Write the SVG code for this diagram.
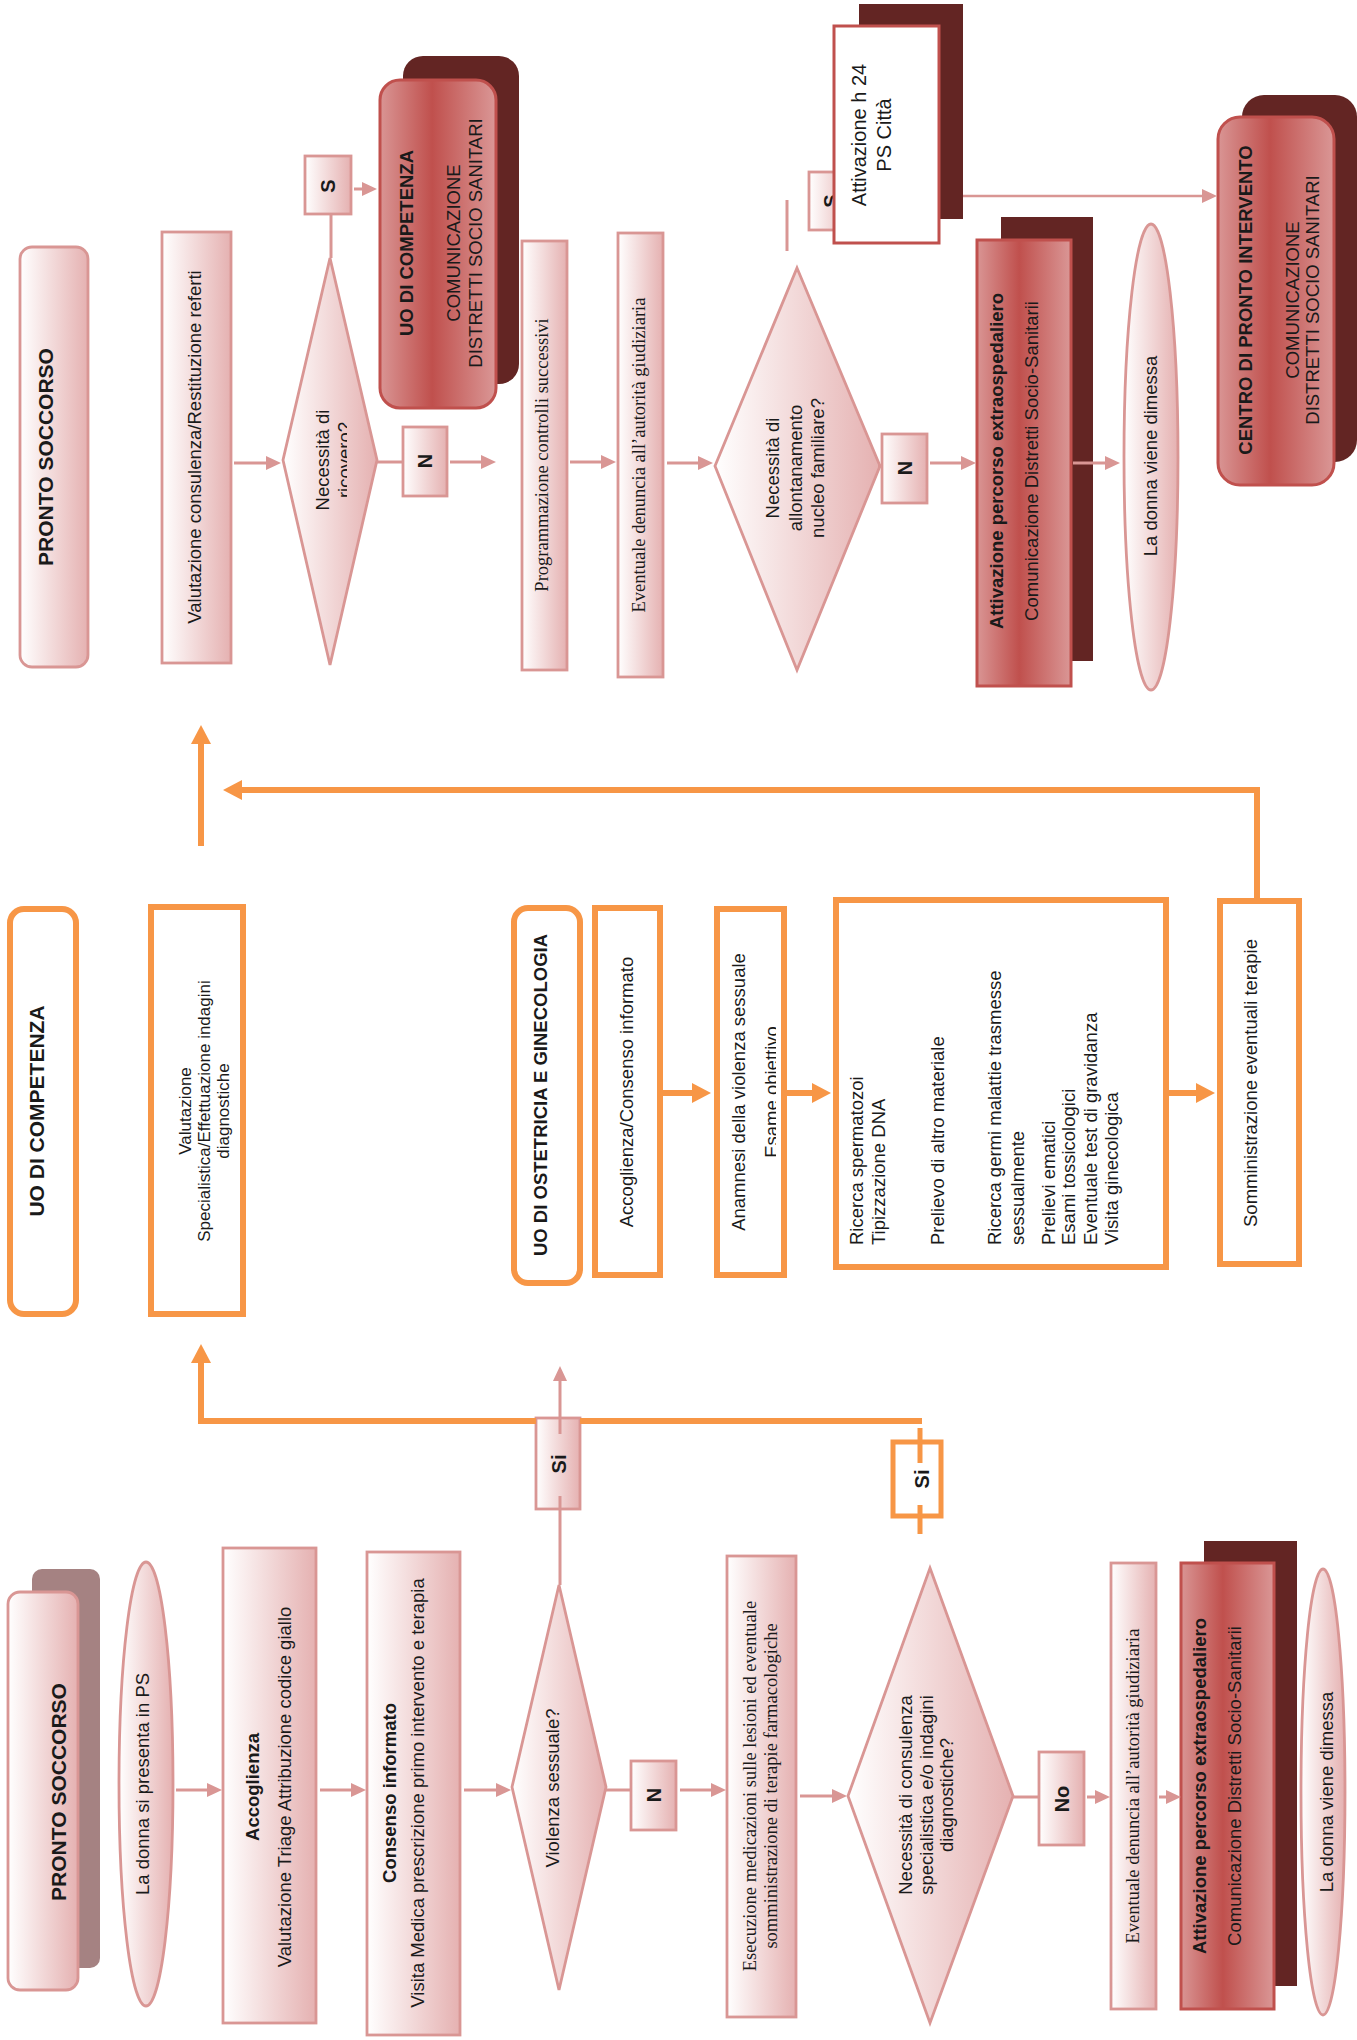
<svg xmlns="http://www.w3.org/2000/svg" width="1357" height="2040" viewBox="0 0 1357 2040">
<defs>
<linearGradient id="gP" x1="0" y1="0" x2="1" y2="0"><stop offset="0" stop-color="#ffffff"/><stop offset="1" stop-color="#e5b1b1"/></linearGradient>
<linearGradient id="gR" x1="0" y1="0" x2="1" y2="0"><stop offset="0" stop-color="#d99594"/><stop offset="0.45" stop-color="#c0504d"/><stop offset="1" stop-color="#da9796"/></linearGradient>
<marker id="ap" markerUnits="userSpaceOnUse" markerWidth="15" markerHeight="14" refX="0" refY="7" orient="auto" overflow="visible"><path d="M0,0 L15,7 L0,14 z" fill="#d99694"/></marker>
<marker id="ao" markerUnits="userSpaceOnUse" markerWidth="19" markerHeight="20" refX="0" refY="10" orient="auto" overflow="visible"><path d="M0,0 L19,10 L0,20 z" fill="#f79646"/></marker>
<clipPath id="cpA"><rect x="140" y="900" width="93" height="420"/></clipPath>
<clipPath id="cpB"><rect x="700" y="900" width="76" height="380"/></clipPath>
<clipPath id="cpC"><rect x="280" y="250" width="67" height="420"/></clipPath>
<style>
.pk{fill:url(#gP);stroke:#d99694;stroke-width:2.8}
.rd{fill:url(#gR);stroke:#c0504d;stroke-width:3}
.sh{fill:#632523}
.or{fill:#ffffff;stroke:#f79646;stroke-width:6}
.t{font-family:"Liberation Sans",Arial,sans-serif;font-size:18.5px;fill:#1a1a1a}
.s{font-family:"Liberation Serif","Times New Roman",serif;font-size:18.5px;fill:#1a1a1a}
.b{font-weight:bold}
.h{font-size:21px}
.m{font-size:20px}
.ln{stroke:#d99694;stroke-width:3;fill:none}
.ol{stroke:#f79646;stroke-width:6;fill:none}
</style>
</defs>
<rect width="1357" height="2040" fill="#ffffff"/>

<!-- bottom row -->
<g id="ps-bottom">
<rect x="32" y="1569" width="68" height="399" rx="10" fill="#a58282"/>
<rect class="pk" x="8" y="1592" width="70" height="398" rx="12"/>
<text class="t b h" text-anchor="middle" transform="translate(0,1792) rotate(-90)"><tspan x="0" y="66">PRONTO SOCCORSO</tspan></text>
</g>
<g id="donna-ps">
<ellipse class="pk" cx="146" cy="1784" rx="27" ry="222"/>
<text class="t" text-anchor="middle" transform="translate(0,1784) rotate(-90)"><tspan x="0" y="149">La donna si presenta in PS</tspan></text>
</g>
<g id="accoglienza">
<rect class="pk" x="223" y="1548" width="93" height="475"/>
<text class="t" text-anchor="middle" transform="translate(0,1787) rotate(-90)"><tspan class="b" x="0" y="259">Accoglienza</tspan><tspan x="0" y="291">Valutazione Triage Attribuzione codice giallo</tspan></text>
</g>
<g id="consenso">
<rect class="pk" x="367" y="1552" width="93" height="483"/>
<text class="t" text-anchor="middle" transform="translate(0,1793) rotate(-90)"><tspan class="b" x="0" y="396">Consenso informato</tspan><tspan x="0" y="424">Visita Medica prescrizione primo intervento e terapia</tspan></text>
</g>
<g id="violenza">
<polygon class="pk" points="559,1585 606,1787 559,1990 512,1787"/>
<text class="t" text-anchor="middle" transform="translate(0,1788) rotate(-90)"><tspan x="0" y="559">Violenza sessuale?</tspan></text>
</g>
<g id="n-violenza">
<rect class="pk" x="631" y="1761" width="45" height="69"/>
<text class="t b m" text-anchor="middle" transform="translate(0,1795) rotate(-90)"><tspan x="0" y="661">N</tspan></text>
</g>
<g id="esecuzione">
<rect class="pk" x="727" y="1556" width="69" height="461"/>
<text class="s" text-anchor="middle" transform="translate(0,1786) rotate(-90)"><tspan x="0" y="756">Esecuzione medicazioni sulle lesioni ed eventuale</tspan><tspan x="0" y="777">somministrazione di terapie farmacologiche</tspan></text>
</g>
<g id="consulenza">
<polygon class="pk" points="930,1568 1013,1796 930,2023 848,1796"/>
<text class="t" text-anchor="middle" transform="translate(0,1795) rotate(-90)"><tspan x="0" y="912">Necessità di consulenza</tspan><tspan x="0" y="933">specialistica e/o indagini</tspan><tspan x="0" y="953">diagnostiche?</tspan></text>
</g>
<g id="no-box">
<rect class="pk" x="1039" y="1752" width="45" height="93"/>
<text class="t b m" text-anchor="middle" transform="translate(0,1799) rotate(-90)"><tspan x="0" y="1069">No</tspan></text>
</g>
<g id="denuncia-bottom">
<rect class="pk" x="1111" y="1563" width="45" height="446"/>
<text class="s" text-anchor="middle" transform="translate(0,1786) rotate(-90)"><tspan x="0" y="1139">Eventuale denuncia all’autorità giudiziaria</tspan></text>
</g>
<g id="attivazione-bottom">
<rect class="sh" x="1204" y="1541" width="93" height="445"/>
<rect class="rd" x="1181" y="1563" width="93" height="446"/>
<text class="t" text-anchor="middle" transform="translate(0,1786) rotate(-90)"><tspan class="b" x="0" y="1206">Attivazione percorso extraospedaliero</tspan><tspan x="0" y="1241">Comunicazione Distretti Socio-Sanitarii</tspan></text>
</g>
<g id="dimessa-bottom">
<ellipse class="pk" cx="1323" cy="1792" rx="22" ry="223"/>
<text class="t" text-anchor="middle" transform="translate(0,1792) rotate(-90)"><tspan x="0" y="1333">La donna viene dimessa</tspan></text>
</g>
<g id="si-pink">
<rect class="pk" x="536" y="1418" width="44" height="91"/>
<text class="t b m" text-anchor="middle" transform="translate(0,1464) rotate(-90)"><tspan x="0" y="566">Si</tspan></text>
</g>
<g id="si-orange">
<rect x="893" y="1442" width="48" height="74" fill="#ffffff" stroke="#f79646" stroke-width="5"/>
<text class="t b m" text-anchor="middle" transform="translate(0,1479) rotate(-90)"><tspan x="0" y="929">Si</tspan></text>
</g>

<!-- orange section -->
<g id="uo-competenza">
<rect class="or" x="10" y="909" width="66" height="405" rx="14"/>
<text class="t b h" text-anchor="middle" transform="translate(0,1111) rotate(-90)"><tspan x="0" y="44">UO DI COMPETENZA</tspan></text>
</g>
<g id="valutazione-specialistica">
<rect class="or" x="151" y="907" width="92" height="407"/>
<g clip-path="url(#cpA)">
<text class="t" style="font-size:17px" text-anchor="middle" transform="translate(0,1111) rotate(-90)"><tspan x="0" y="191">Valutazione</tspan><tspan x="0" y="210">Specialistica/Effettuazione indagini</tspan><tspan x="0" y="229">diagnostiche</tspan></text>
</g>
</g>
<g id="uo-ostetricia">
<rect class="or" x="514" y="908" width="66" height="375" rx="14"/>
<text class="t b" text-anchor="middle" transform="translate(0,1095) rotate(-90)"><tspan x="0" y="547">UO DI OSTETRICIA E GINECOLOGIA</tspan></text>
</g>
<g id="accoglienza-consenso">
<rect class="or" x="595" y="908" width="65" height="367"/>
<text class="t" text-anchor="middle" transform="translate(0,1092) rotate(-90)"><tspan x="0" y="633">Accoglienza/Consenso informato</tspan></text>
</g>
<g id="anamnesi">
<rect class="or" x="717" y="909" width="67" height="366"/>
<g clip-path="url(#cpB)">
<text class="t" text-anchor="middle" transform="translate(0,1092) rotate(-90)"><tspan x="0" y="745">Anamnesi della violenza sessuale</tspan><tspan x="0" y="778">Esame obiettivo</tspan></text>
</g>
</g>
<g id="esami">
<rect class="or" x="836" y="900" width="330" height="367"/>
<text class="t" transform="translate(0,1245) rotate(-90)"><tspan x="0" y="863">Ricerca spermatozoi</tspan><tspan x="0" y="885">Tipizzazione DNA</tspan><tspan x="0" y="944">Prelievo di altro materiale</tspan><tspan x="0" y="1001">Ricerca germi malattie trasmesse</tspan><tspan x="0" y="1024">sessualmente</tspan><tspan x="0" y="1055">Prelievi ematici</tspan><tspan x="0" y="1075">Esami tossicologici</tspan><tspan x="0" y="1097">Eventuale test di gravidanza</tspan><tspan x="0" y="1118">Visita ginecologica</tspan></text>
</g>
<g id="somministrazione">
<rect class="or" x="1220" y="901" width="79" height="363"/>
<text class="t" text-anchor="middle" transform="translate(0,1083) rotate(-90)"><tspan x="0" y="1257">Somministrazione eventuali terapie</tspan></text>
</g>

<!-- top section -->
<g id="ps-top">
<rect class="pk" x="20" y="247" width="68" height="420" rx="12"/>
<text class="t b h" text-anchor="middle" transform="translate(0,457) rotate(-90)"><tspan x="0" y="53">PRONTO SOCCORSO</tspan></text>
</g>
<g id="valutazione-consulenza">
<rect class="pk" x="162" y="232" width="69" height="431"/>
<text class="t" text-anchor="middle" transform="translate(0,447) rotate(-90)"><tspan x="0" y="201">Valutazione consulenza/Restituzione referti</tspan></text>
</g>
<g id="ricovero">
<polygon class="pk" points="330,258 377,460 330,665 283,460"/>
<g clip-path="url(#cpC)">
<text class="t" text-anchor="middle" transform="translate(0,460) rotate(-90)"><tspan x="0" y="329">Necessità di</tspan><tspan x="0" y="351">ricovero?</tspan></text>
</g>
</g>
<g id="s-ricovero">
<rect class="pk" x="305" y="156" width="46" height="58"/>
<text class="t b m" text-anchor="middle" transform="translate(0,186) rotate(-90)"><tspan x="0" y="335">S</tspan></text>
</g>
<g id="uo-competenza-red">
<rect class="sh" x="403" y="56" width="116" height="328" rx="20"/>
<rect class="rd" x="380" y="80" width="116" height="328" rx="20"/>
<text class="t" text-anchor="middle" transform="translate(0,243) rotate(-90)"><tspan class="b" x="0" y="413">UO DI COMPETENZA</tspan><tspan x="0" y="460">COMUNICAZIONE</tspan><tspan x="0" y="482">DISTRETTI SOCIO SANITARI</tspan></text>
</g>
<g id="n-ricovero">
<rect class="pk" x="403" y="427" width="44" height="69"/>
<text class="t b m" text-anchor="middle" transform="translate(0,461) rotate(-90)"><tspan x="0" y="432">N</tspan></text>
</g>
<g id="programmazione">
<rect class="pk" x="522" y="241" width="45" height="429"/>
<text class="s" text-anchor="middle" transform="translate(0,455) rotate(-90)"><tspan x="0" y="548">Programmazione controlli successivi</tspan></text>
</g>
<g id="denuncia-top">
<rect class="pk" x="618" y="233" width="45" height="444"/>
<text class="s" text-anchor="middle" transform="translate(0,455) rotate(-90)"><tspan x="0" y="645">Eventuale denuncia all’autorità giudiziaria</tspan></text>
</g>
<g id="allontanamento">
<polygon class="pk" points="797,268 880,466 797,670 715,466"/>
<text class="t" text-anchor="middle" transform="translate(0,468) rotate(-90)"><tspan x="0" y="779">Necessità di</tspan><tspan x="0" y="802">allontanamento</tspan><tspan x="0" y="824">nucleo familiare?</tspan></text>
</g>
<g id="n-allontanamento">
<rect class="pk" x="882" y="434" width="45" height="69"/>
<text class="t b m" text-anchor="middle" transform="translate(0,468) rotate(-90)"><tspan x="0" y="912">N</tspan></text>
</g>
<g id="s-allontanamento">
<rect class="pk" x="809" y="172" width="45" height="58"/>
<text class="t b m" text-anchor="middle" transform="translate(0,201) rotate(-90)"><tspan x="0" y="838">S</tspan></text>
</g>
<g id="attivazione-h24">
<rect class="sh" x="859" y="4" width="104" height="215"/>
<rect x="834" y="26" width="105" height="217" fill="#ffffff" stroke="#c0504d" stroke-width="3"/>
<text class="t m" text-anchor="middle" transform="translate(0,135) rotate(-90)"><tspan x="0" y="866">Attivazione h 24</tspan><tspan x="0" y="891">PS Città</tspan></text>
</g>
<g id="attivazione-top">
<rect class="sh" x="1001" y="217" width="92" height="444"/>
<rect class="rd" x="977" y="240" width="94" height="446"/>
<text class="t" text-anchor="middle" transform="translate(0,461) rotate(-90)"><tspan class="b" x="0" y="1003">Attivazione percorso extraospedaliero</tspan><tspan x="0" y="1038">Comunicazione Distretti Socio-Sanitarii</tspan></text>
</g>
<g id="dimessa-top">
<ellipse class="pk" cx="1151" cy="457" rx="27" ry="233"/>
<text class="t" text-anchor="middle" transform="translate(0,456) rotate(-90)"><tspan x="0" y="1157">La donna viene dimessa</tspan></text>
</g>
<g id="centro-pronto-intervento">
<rect class="sh" x="1242" y="95" width="115" height="367" rx="22"/>
<rect class="rd" x="1218" y="117" width="116" height="368" rx="22"/>
<text class="t" text-anchor="middle" transform="translate(0,300) rotate(-90)"><tspan class="b" x="0" y="1252">CENTRO DI PRONTO INTERVENTO</tspan><tspan x="0" y="1299">COMUNICAZIONE</tspan><tspan x="0" y="1319">DISTRETTI SOCIO SANITARI</tspan></text>
</g>

<g id="connectors">
<!-- bottom row -->
<path class="ln" d="M176,1790 H207" marker-end="url(#ap)"/>
<path class="ln" d="M320,1790 H351" marker-end="url(#ap)"/>
<path class="ln" d="M464,1790 H496" marker-end="url(#ap)"/>
<path class="ln" d="M606,1790 H631"/>
<path class="ln" d="M680,1790 H711" marker-end="url(#ap)"/>
<path class="ln" d="M800,1796 H832" marker-end="url(#ap)"/>
<path class="ln" d="M1013,1797 H1039"/>
<path class="ln" d="M1087,1797 H1095" marker-end="url(#ap)"/>
<path class="ln" d="M1159,1797 H1166" marker-end="url(#ap)"/>
<path class="ln" d="M560,1585 V1509"/>
<path class="ln" d="M560,1509 V1496"/>
<path class="ln" d="M560,1434 V1418"/>
<path class="ln" d="M560,1418 V1381" marker-end="url(#ap)"/>
<!-- orange -->
<path class="ol" d="M922,1421 H580"/>
<path class="ol" d="M536,1421 H201 V1363" marker-end="url(#ao)"/>
<path class="ol" style="stroke-width:5" d="M920,1428 V1463"/>
<path class="ol" style="stroke-width:5" d="M920,1505 V1534"/>
<path class="ol" d="M201,846 V744" marker-end="url(#ao)"/>
<path class="ol" d="M1257,898 V790 H242" marker-end="url(#ao)"/>
<path class="ol" d="M663,1093 H692" marker-end="url(#ao)"/>
<path class="ol" d="M787,1093 H812" marker-end="url(#ao)"/>
<path class="ol" d="M1169,1093 H1196" marker-end="url(#ao)"/>
<!-- top row -->
<path class="ln" d="M234,463 H266" marker-end="url(#ap)"/>
<path class="ln" d="M377,462 H403"/>
<path class="ln" d="M450,462 H481" marker-end="url(#ap)"/>
<path class="ln" d="M570,462 H601" marker-end="url(#ap)"/>
<path class="ln" d="M667,463 H698" marker-end="url(#ap)"/>
<path class="ln" d="M878,466 H883"/>
<path class="ln" d="M930,463 H961" marker-end="url(#ap)"/>
<path class="ln" d="M1073,463 H1105" marker-end="url(#ap)"/>
<path class="ln" d="M331,258 V214"/>
<path class="ln" d="M354,189 H362" marker-end="url(#ap)"/>
<path class="ln" d="M787,200 V251"/>
<path class="ln" style="stroke-width:2.5" d="M963,196 H1202" marker-end="url(#ap)"/>
</g>
</svg>
